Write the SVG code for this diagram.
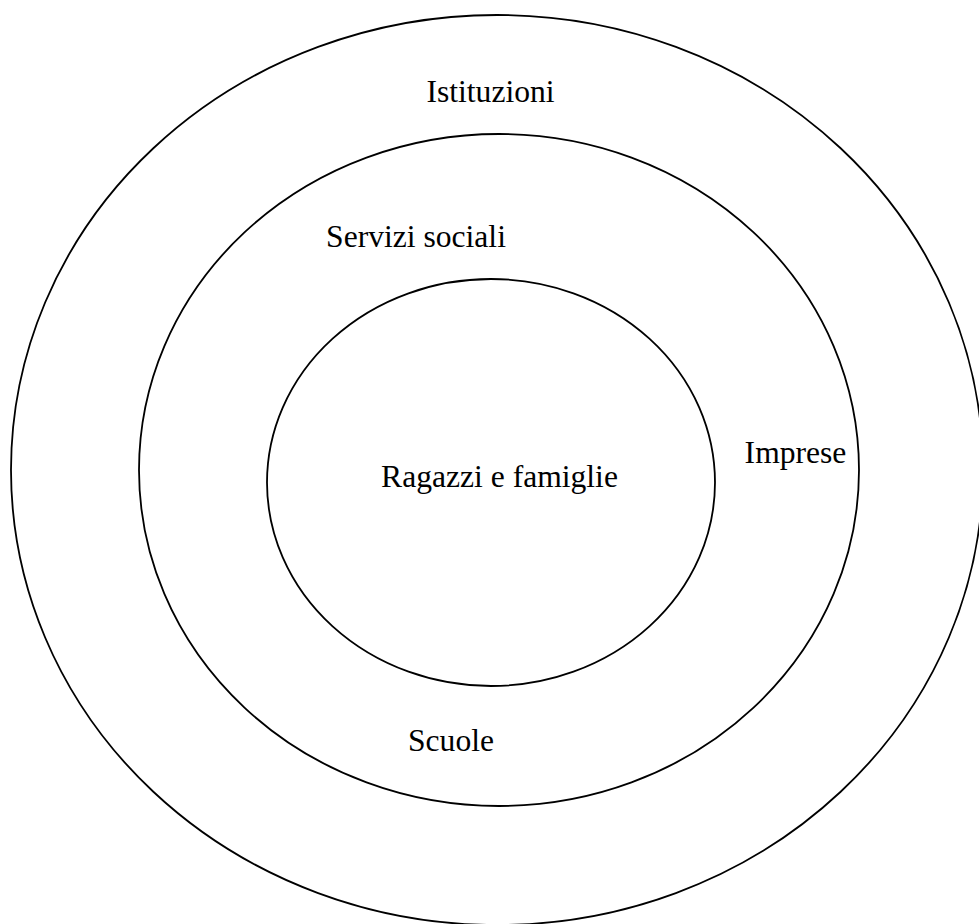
<svg xmlns="http://www.w3.org/2000/svg" width="979" height="924" viewBox="0 0 979 924">
<style>
.ring{fill:none;stroke:#000;stroke-width:1.8}
.lbl{font-family:"Liberation Serif","Times New Roman",serif;font-size:31.6px;fill:#000;text-anchor:middle}
</style>
<rect width="979" height="924" fill="#fff"/>
<g id="istituzioni">
<ellipse class="ring" cx="497" cy="470" rx="486" ry="455"/>
<text class="lbl" x="490.5" y="102">Istituzioni</text>
</g>
<g id="servizi">
<ellipse class="ring" cx="499" cy="470" rx="360" ry="336"/>
<text class="lbl" x="416" y="247">Servizi sociali</text>
<text class="lbl" x="795.5" y="463">Imprese</text>
<text class="lbl" x="451" y="751">Scuole</text>
</g>
<g id="ragazzi">
<ellipse class="ring" cx="491" cy="482.5" rx="224" ry="203.5"/>
<text class="lbl" x="499.5" y="487">Ragazzi e famiglie</text>
</g>
<g id="connectors"/>
</svg>
